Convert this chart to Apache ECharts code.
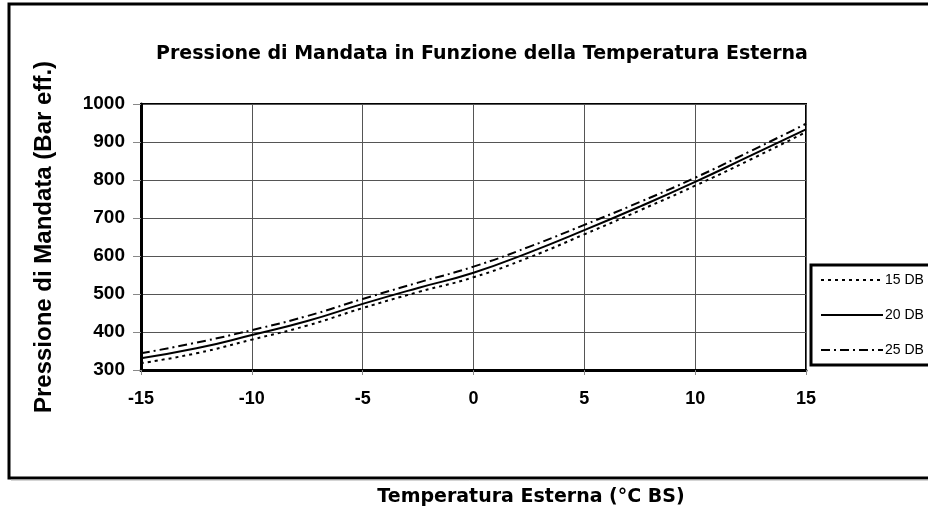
<!DOCTYPE html>
<html>
<head>
<meta charset="utf-8">
<script src="https://cdn.jsdelivr.net/npm/echarts@6/dist/echarts.min.js"></script>
<style>
  html, body { margin: 0; padding: 0; background: #fff; }
  #chart { width: 928px; height: 515px; }
</style>
</head>
<body>
<div id="chart"></div>
<script>
// temperatura esterna (°C BS)
const temps = [-15, -12.5, -10, -7.5, -5, -2.5, 0, 2.5, 5, 7.5, 10, 12.5, 15];
// pressione di mandata per umidità
const p15 = [318, 344, 380, 417, 463, 505, 544, 596, 657, 720, 785, 854, 926];
const p20 = [331, 357, 392, 429, 474, 516, 556, 609, 668, 730, 795, 864, 933];
const p25 = [344, 372, 405, 442, 487, 530, 572, 624, 682, 742, 806, 876, 948];

const pairs = (vals) => temps.map((t, i) => [t, vals[i]]);

const lineSeries = (name, vals, type) => ({
  name: name,
  type: 'line',
  data: pairs(vals),
  smooth: true,
  symbol: 'none',
  itemStyle: { color: '#000' },
  lineStyle: { color: '#000', width: 2, type: type }
});

const chart = echarts.init(document.getElementById('chart'));
chart.setOption({
  animation: false,
  title: {
    text: 'Pressione di Mandata in Funzione della Temperatura Esterna',
    left: 477,
    top: 40,
    textAlign: 'center',
    textStyle: { fontFamily: 'DejaVu Sans', fontWeight: 'bold', fontSize: 19, color: '#000' }
  },
  legend: {
    orient: 'vertical',
    left: 811,
    top: 265,
    itemWidth: 62,
    itemHeight: 14,
    itemGap: 21,
    padding: [8, 40, 8, 9],
    borderColor: '#000',
    borderWidth: 3,
    itemStyle: { opacity: 0 },
    textStyle: { fontFamily: 'Liberation Sans', fontSize: 14, color: '#000', padding: [0, 0, 0, -3] },
    data: ['15 DB', '20 DB', '25 DB']
  },
  grid: {
    left: 141,
    right: 122,
    top: 104,
    bottom: 145,
    show: true,
    borderColor: '#000',
    borderWidth: 2
  },
  xAxis: {
    type: 'value',
    min: -15,
    max: 15,
    interval: 5,
    axisLine: { show: true, onZero: false, lineStyle: { color: '#000', width: 3 } },
    axisTick: { show: true, length: 5, lineStyle: { color: '#888' } },
    splitLine: { show: true, lineStyle: { color: '#555', width: 1 } },
    axisLabel: {
      margin: 20,
      fontFamily: 'Liberation Sans',
      fontWeight: 'bold',
      fontSize: 18,
      color: '#000'
    }
  },
  yAxis: {
    type: 'value',
    min: 300,
    max: 1000,
    interval: 100,
    name: 'Pressione di Mandata (Bar eff.)',
    nameLocation: 'middle',
    nameGap: 85,
    nameTextStyle: { fontFamily: 'Liberation Sans', fontWeight: 'bold', fontSize: 24, color: '#000' },
    axisLine: { show: true, onZero: false, lineStyle: { color: '#000', width: 3 } },
    axisTick: { show: true, length: 8, lineStyle: { color: '#888' } },
    splitLine: { show: true, lineStyle: { color: '#555', width: 1 } },
    axisLabel: {
      margin: 16,
      fontFamily: 'Liberation Sans',
      fontWeight: 'bold',
      fontSize: 19,
      color: '#000',
      formatter: (v) => String(v)
    }
  },
  graphic: [
    {
      type: 'rect',
      shape: { x: 9, y: 4, width: 940, height: 474 },
      style: { fill: 'none', stroke: '#000', lineWidth: 3 },
      silent: true
    },
    {
      type: 'line',
      shape: { x1: 11, y1: 480, x2: 928, y2: 480 },
      style: { stroke: '#aaa', lineWidth: 1 },
      silent: true
    },
    {
      type: 'text',
      x: 531,
      y: 497,
      style: {
        text: 'Temperatura Esterna (°C BS)',
        fontFamily: 'DejaVu Sans',
        fontWeight: 'bold',
        fontSize: 19,
        fill: '#000',
        align: 'center',
        verticalAlign: 'middle'
      }
    }
  ],
  series: [
    lineSeries('15 DB', p15, [3, 4]),
    lineSeries('20 DB', p20, 'solid'),
    lineSeries('25 DB', p25, [9, 4, 2, 4])
  ]
});
</script>
</body>
</html>
